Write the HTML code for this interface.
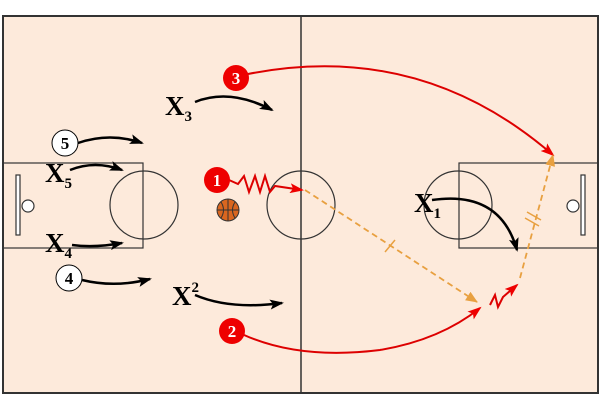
<!DOCTYPE html>
<html><head><style>html,body{margin:0;padding:0;background:#fff}</style></head>
<body>
<svg width="600" height="400" xmlns="http://www.w3.org/2000/svg" font-family="Liberation Serif, serif">
<defs>
<marker id="ab" markerWidth="14" markerHeight="10" refX="12" refY="5" orient="auto" markerUnits="userSpaceOnUse"><path d="M0,0 L14,5 L0,10 L3,5 Z" fill="#000"/></marker>
<marker id="ar" markerWidth="14" markerHeight="10" refX="12" refY="5" orient="auto" markerUnits="userSpaceOnUse"><path d="M0,0 L14,5 L0,10 L3,5 Z" fill="#e00"/></marker>
<marker id="ao" markerWidth="12" markerHeight="10" refX="11" refY="5" orient="auto" markerUnits="userSpaceOnUse"><path d="M0,0 L12,5 L0,10 Z" fill="#e8a040"/></marker>
</defs>
<rect x="3" y="16" width="595" height="377" fill="#fdeadb" stroke="#333" stroke-width="2"/>
<line x1="301" y1="16" x2="301" y2="393" stroke="#333" stroke-width="1.5"/>
<g fill="none" stroke="#333" stroke-width="1.2">
<rect x="3" y="163" width="140" height="85"/>
<circle cx="144" cy="205" r="34"/>
<circle cx="301" cy="205" r="34"/>
<rect x="459" y="163" width="139" height="85"/>
<circle cx="458" cy="205" r="34"/>
<rect x="16" y="175" width="4" height="60" fill="#fff"/>
<circle cx="28" cy="206" r="6" fill="#fff"/>
<rect x="581" y="175" width="4" height="60" fill="#fff"/>
<circle cx="573" cy="206" r="6" fill="#fff"/>
</g>
<g fill="none" stroke="#000" stroke-width="2.5" marker-end="url(#ab)">
<path d="M195,102 Q230,88 272,110"/>
<path d="M78,143 Q110,132 142,143"/>
<path d="M70,170 Q95,160 122,170"/>
<path d="M72,245 Q95,248 122,243"/>
<path d="M82,280 Q115,288 150,279"/>
<path d="M195,295 Q230,310 282,303"/>
<path d="M432,200 Q500,190 517,250"/>
</g>
<g fill="none" stroke="#d00" stroke-width="2">
<path d="M248,74 Q420,40 553,155" marker-end="url(#ar)"/>
<path d="M244,335 Q300,360 380,350 Q440,340 480,308" marker-end="url(#ar)"/>
<path d="M229,180 L238,184 L244,176 L249,192 L255,176 L260,192 L265,176 L270,192 L275,186 L302,190" marker-end="url(#ar)"/>
<path d="M490,305 L495,295 L498,307 L503,297 L517,285" marker-end="url(#ar)"/>
</g>
<g fill="none" stroke="#e8a040" stroke-width="1.8" stroke-dasharray="6,4">
<path d="M305,190 L477,302" marker-end="url(#ao)"/>
<path d="M520,278 L553,155" marker-end="url(#ao)"/>
</g>
<g stroke="#e8a040" stroke-width="1.5">
<line x1="385" y1="252" x2="395" y2="240"/>
<line x1="527" y1="212" x2="541" y2="220"/>
<line x1="525" y1="218" x2="539" y2="226"/>
</g>
<g font-weight="bold" font-size="17" text-anchor="middle">
<circle cx="236" cy="78" r="13" fill="#e00"/><text x="236" y="84" fill="#fff">3</text>
<circle cx="217" cy="180" r="13" fill="#e00"/><text x="217" y="186" fill="#fff">1</text>
<circle cx="232" cy="331" r="13" fill="#e00"/><text x="232" y="337" fill="#fff">2</text>
<circle cx="65" cy="143" r="13" fill="#fff" stroke="#000"/><text x="65" y="149">5</text>
<circle cx="69" cy="278" r="13" fill="#fff" stroke="#000"/><text x="69" y="284">4</text>
</g>
<circle cx="228" cy="210" r="11" fill="#d9661f" stroke="#333"/>
<path d="M217,210 H239 M228,199 V221 M221,202 Q226,210 221,218 M235,202 Q230,210 235,218" stroke="#333" fill="none"/>
<g font-weight="bold" font-size="27">
<text x="165" y="115">X<tspan font-size="15" dy="6">3</tspan></text>
<text x="45" y="182">X<tspan font-size="15" dy="6">5</tspan></text>
<text x="45" y="252">X<tspan font-size="15" dy="6">4</tspan></text>
<text x="172" y="305">X<tspan font-size="15" dy="-13">2</tspan></text>
<text x="414" y="212">X<tspan font-size="15" dy="6">1</tspan></text>
</g>
</svg>
</body></html>
